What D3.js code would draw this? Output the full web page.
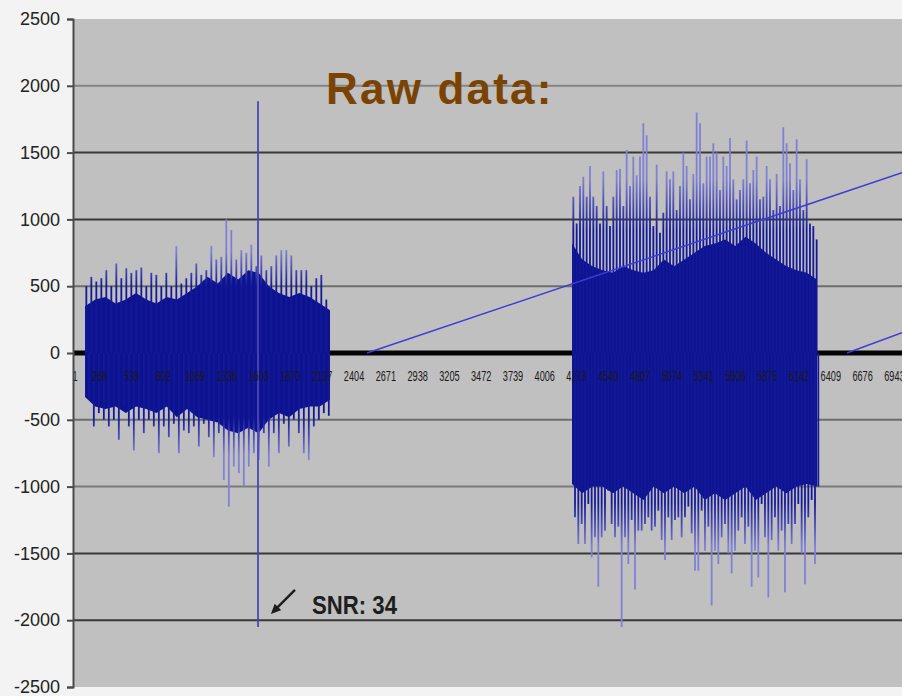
<!DOCTYPE html>
<html>
<head>
<meta charset="utf-8">
<script src="https://cdn.jsdelivr.net/npm/d3@7"></script>
<style>
  html, body { margin: 0; padding: 0; background: #f3f3f3; }
  svg { display: block; }
</style>
</head>
<body>
<svg id="chart" width="902" height="696"></svg>
<script>
// ---- values ----
const yTicks = [2500, 2000, 1500, 1000, 500, 0, -500, -1000, -1500, -2000, -2500];
const xLabels = [1, 268, 535, 802, 1069, 1336, 1603, 1870, 2137, 2404, 2671, 2938, 3205, 3472,
                 3739, 4006, 4273, 4540, 4807, 5074, 5341, 5608, 5875, 6142, 6409, 6676, 6943];

// first burst: sample range, dense band edges, and positive / negative excursions
const burst1Range = [144, 2202];
const burst1CoreTop = [350, 400, 420, 370, 400, 450, 400, 370, 420, 400, 450, 500, 570,
                       520, 600, 550, 620, 600, 500, 450, 420, 450, 420, 370, 320];
const burst1CoreBottom = [-330, -400, -420, -400, -450, -400, -420, -450, -400, -480, -420, -480, -500,
                          -520, -580, -600, -560, -600, -500, -450, -480, -420, -400, -400, -350];
const burst1PeakStart = 155, burst1PeakStep = 42;
const burst1Peaks = [500, 570, 535, 560, 620, 500, 670, 560, 635, 600,
                     620, 640, 500, 600, 585, 500, 600, 500, 800, 520,
                     560, 600, 670, 585, 620, 800, 700, 720, 1000, 920,
                     700, 770, 750, 810, 650, 730, 620, 650, 730, 770,
                     770, 730, 620, 620, 620, 500, 560, 585, 400];
const burst1Troughs = [-350, -550, -450, -500, -550, -500, -650, -400, -550, -730,
                       -500, -600, -500, -550, -750, -550, -630, -530, -750, -580,
                       -600, -550, -700, -530, -630, -780, -600, -950, -1150, -850,
                       -900, -1000, -850, -750, -800, -600, -850, -600, -750, -530,
                       -700, -500, -600, -750, -800, -550, -500, -450, -470];

// isolated pulse inside the first burst
const pulseSample = 1597, pulseHigh = 1885, pulseLow = -2050;

// second burst
const burst2Range = [4235, 6293];
const burst2CoreTop = [820, 700, 650, 620, 600, 650, 620, 600, 620, 700, 650, 700, 750,
                       800, 820, 850, 800, 870, 820, 750, 700, 650, 620, 600, 550];
const burst2CoreBottom = [-980, -1050, -1000, -1000, -1050, -1000, -1050, -1100, -1000, -1050, -1000, -1050, -1000,
                          -1100, -1050, -1100, -1050, -1000, -1100, -1050, -1000, -1050, -1000, -980, -1000];
const burst2PeakStart = 4246, burst2PeakStep = 28;
const burst2Peaks = [1170, 970, 1250, 1320, 1170, 1400, 1170, 1100, 970, 1360,
                     1100, 950, 1170, 1370, 1380, 1100, 1520, 1250, 1470, 1330,
                     1470, 1720, 1630, 1170, 950, 1410, 900, 1050, 1360, 1300,
                     1360, 1070, 1250, 1500, 1400, 1150, 1340, 1800, 1720, 1270,
                     1470, 1470, 1570, 1500, 1220, 1470, 1400, 1610, 1300, 1150,
                     1220, 1300, 1590, 1270, 1370, 1470, 1150, 1170, 1400, 1300,
                     1070, 1340, 1100, 1690, 1570, 1420, 1220, 1600, 1300, 1070,
                     1450, 970, 950, 850];
const burst2Troughs = [-1230, -1430, -1280, -1430, -1130, -1530, -1380, -1750, -1380, -1330,
                       -1030, -1280, -1380, -1300, -2050, -1380, -1580, -1250, -1770, -1330,
                       -1330, -1280, -1230, -1330, -1300, -1180, -1400, -1550, -1230, -1400,
                       -1250, -1230, -1380, -1230, -1150, -1350, -1630, -1630, -1180, -1480,
                       -1300, -1890, -1480, -1580, -1380, -1280, -1500, -1650, -1480, -1330,
                       -1230, -1430, -1300, -1750, -1480, -1680, -1130, -1380, -1830, -1400,
                       -1230, -1480, -1330, -1790, -1280, -1430, -1280, -1130, -1500, -1730,
                       -1230, -1100, -1580, -1000];

// straight ramp traces
const rampA = [{ s: 2513, v: 0 }, { s: 7007, v: 1350 }];
const rampB = [{ s: 6545, v: 0 }, { s: 7007, v: 152 }];

// ---- layout ----
const plot = { left: 73, top: 19, right: 902, bottom: 687 };

const svg = d3.select("#chart");
const x = d3.scaleLinear().domain([1, 7007]).range([68, 902]);
const y = d3.scaleLinear().domain([-2500, 2500]).range([plot.bottom, plot.top]);

const defs = svg.append("defs");
defs.append("clipPath").attr("id", "plotClip")
  .append("rect")
  .attr("x", plot.left).attr("y", plot.top)
  .attr("width", plot.right - plot.left).attr("height", plot.bottom - plot.top);

// vertical shading for the excursion lines: dark near the dense band, pale toward the tips
const light = "#8080d4", navy = "#131896";
function bandGradient(id, stops) {
  const g = defs.append("linearGradient").attr("id", id)
    .attr("gradientUnits", "userSpaceOnUse")
    .attr("x1", 0).attr("x2", 0).attr("y1", y(2500)).attr("y2", y(-2500));
  stops.forEach(([v, c]) => g.append("stop")
    .attr("offset", (2500 - v) / 5000).attr("stop-color", c));
}
bandGradient("grad1", [[2500, light], [760, light], [500, navy], [-480, navy], [-760, light], [-2500, light]]);
bandGradient("grad2", [[2500, light], [1300, light], [920, navy], [-1120, navy], [-1450, light], [-2500, light]]);

defs.append("marker").attr("id", "arrowHead")
  .attr("viewBox", "0 0 10 10").attr("refX", 7).attr("refY", 5)
  .attr("markerUnits", "userSpaceOnUse")
  .attr("markerWidth", 10).attr("markerHeight", 10)
  .attr("orient", "auto")
  .append("path").attr("d", "M0,0.5 L10,5 L0,9.5 Z").attr("fill", "#1c1c1c");

// plot background
svg.append("rect")
  .attr("x", plot.left).attr("y", plot.top)
  .attr("width", plot.right - plot.left).attr("height", plot.bottom - plot.top)
  .attr("fill", "#c0c0c0");

// horizontal gridlines
const gridTone = { 2000: "#858585", 500: "#6e6e6e", [-500]: "#6e6e6e", [-1000]: "#7a7a7a" };
svg.append("g").selectAll("line")
  .data(yTicks.filter(v => v !== 0 && Math.abs(v) !== 2500))
  .join("line")
  .attr("x1", plot.left).attr("x2", plot.right)
  .attr("y1", d => y(d)).attr("y2", d => y(d))
  .attr("stroke", d => gridTone[d] || "#383838")
  .attr("stroke-width", 2);

// zero line (category axis)
svg.append("line")
  .attr("x1", plot.left).attr("x2", plot.right)
  .attr("y1", y(0)).attr("y2", y(0))
  .attr("stroke", "#050505").attr("stroke-width", 5);

const data = svg.append("g").attr("clip-path", "url(#plotClip)");

function drawBurst(range, coreTop, coreBottom, start, step, peaks, troughs, gradId) {
  const g = data.append("g");
  const n = coreTop.length;
  const sAt = i => range[0] + (range[1] - range[0]) * i / (n - 1);
  const band = coreTop.map((t, i) => ({ s: sAt(i), t, b: coreBottom[i] }));
  g.append("path").datum(band)
    .attr("d", d3.area().x(d => x(d.s)).y0(d => y(d.b)).y1(d => y(d.t)).curve(d3.curveLinear))
    .attr("fill", "#0d1390");

  const spikes = [];
  peaks.forEach((v, i) => spikes.push({ s: start + i * step, v }));
  troughs.forEach((v, i) => spikes.push({ s: start + i * step + step / 2, v }));
  g.selectAll("line.spike").data(spikes).join("line")
    .attr("class", "spike")
    .attr("x1", d => x(d.s)).attr("x2", d => x(d.s))
    .attr("y1", y(0)).attr("y2", d => y(d.v))
    .attr("stroke", `url(#${gradId})`)
    .attr("stroke-width", 1.8);
}

drawBurst(burst1Range, burst1CoreTop, burst1CoreBottom, burst1PeakStart, burst1PeakStep,
          burst1Peaks, burst1Troughs, "grad1");
drawBurst(burst2Range, burst2CoreTop, burst2CoreBottom, burst2PeakStart, burst2PeakStep,
          burst2Peaks, burst2Troughs, "grad2");

// isolated pulse
data.append("line")
  .attr("x1", x(pulseSample)).attr("x2", x(pulseSample))
  .attr("y1", y(pulseLow)).attr("y2", y(pulseHigh))
  .attr("stroke", "#4848b6").attr("stroke-width", 1.8);

// ramp traces
const rampLine = d3.line().x(d => x(d.s)).y(d => y(d.v));
[rampA, rampB].forEach(r => data.append("path").datum(r)
  .attr("d", rampLine).attr("fill", "none")
  .attr("stroke", "#3d3dd6").attr("stroke-width", 1.5));

// category labels along the zero line
const xAxis = d3.axisBottom(x).tickValues(xLabels).tickSize(0).tickFormat(d => String(d));
const xg = svg.append("g").attr("transform", `translate(0,${y(0)})`).call(xAxis);
xg.select(".domain").remove();
xg.selectAll(".tick").attr("transform", d => `translate(${Math.max(x(d), plot.left + 2)},0)`);
xg.selectAll("text")
  .attr("y", 18).attr("dy", "0.71em")
  .attr("font-family", "'Liberation Sans', Arial, sans-serif")
  .attr("font-size", 14)
  .attr("fill", "#1a1a1a")
  .attr("textLength", d => String(d).length * 5.1)
  .attr("lengthAdjust", "spacingAndGlyphs");

// value axis
const yAxis = d3.axisLeft(y).tickValues(yTicks).tickSize(6).tickPadding(7).tickFormat(d => String(d));
const yg = svg.append("g").attr("transform", `translate(${plot.left},0)`).call(yAxis);
yg.select(".domain").attr("stroke", "#4a4a4a").attr("stroke-width", 2);
yg.selectAll(".tick line").attr("stroke", "#4a4a4a").attr("stroke-width", 2);
yg.selectAll("text")
  .attr("font-family", "'Liberation Sans', Arial, sans-serif")
  .attr("font-size", 18)
  .attr("fill", "#222");

// heading
svg.append("text")
  .attr("x", 326).attr("y", 104)
  .attr("font-family", "'Liberation Sans', Arial, sans-serif")
  .attr("font-weight", "bold").attr("font-size", 44)
  .attr("letter-spacing", 2.2)
  .attr("fill", "#7a4400")
  .text("Raw data:");

// SNR callout pointing at the pulse
const tip = [x(pulseSample) + 15, y(pulseLow) - 15];
const tail = [tip[0] + 22, tip[1] - 22];
svg.append("line")
  .attr("x1", tail[0]).attr("y1", tail[1]).attr("x2", tip[0]).attr("y2", tip[1])
  .attr("stroke", "#1c1c1c").attr("stroke-width", 2.4)
  .attr("marker-end", "url(#arrowHead)");
svg.append("text")
  .attr("x", tail[0] + 17).attr("y", tail[1] + 24)
  .attr("font-family", "'Liberation Sans Narrow', 'Liberation Sans', Arial, sans-serif")
  .attr("font-weight", "bold").attr("font-size", 26)
  .attr("fill", "#1e1e1e")
  .attr("textLength", 85).attr("lengthAdjust", "spacingAndGlyphs")
  .text("SNR: 34");
</script>
</body>
</html>
